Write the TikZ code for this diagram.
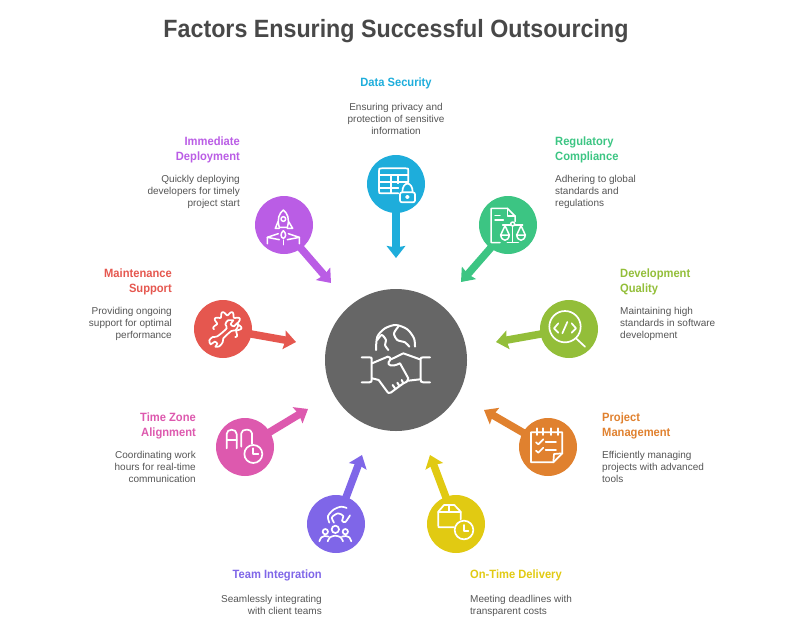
\documentclass[tikz,border=0pt]{standalone}
\usepackage{fontspec}
\setmainfont[BoldFeatures={FakeStretch=0.93}]{Liberation Sans}
\usetikzlibrary{arrows.meta}
\definecolor{cblue}{HTML}{1EADDB}
\definecolor{cpurple}{HTML}{BA5DE5}
\definecolor{cgreen}{HTML}{3CC583}
\definecolor{colive}{HTML}{93BE39}
\definecolor{corange}{HTML}{E0812F}
\definecolor{cyellow}{HTML}{E1CA12}
\definecolor{cviolet}{HTML}{7F66E8}
\definecolor{cpink}{HTML}{DD59AE}
\definecolor{cred}{HTML}{E5574F}
\definecolor{ccenter}{HTML}{666666}
\definecolor{ctitle}{HTML}{484848}
\definecolor{cbody}{HTML}{555555}
\tikzset{
  disc/.style={circle,fill=#1,minimum size=58pt,inner sep=0pt,outer sep=0pt},
  spoke/.style={draw=#1,line width=7.5pt,shorten <=-4pt,-{Stealth[length=12pt,width=18.5pt,inset=1.5pt]}},
  head/.style={font=\fontsize{12}{14.5}\selectfont\bfseries,text=#1,inner sep=0pt},
  body/.style={font=\fontsize{10}{12}\selectfont,text=cbody,inner sep=0pt},
  icon/.style={draw=white,line width=1.7pt,line cap=round,line join=round},
  zoomed/.style 2 args={shift={(#1,#2)},x=0.33333pt,y=-0.33333pt},
}
\begin{document}
\begin{tikzpicture}[x=1pt,y=-1pt]
\useasboundingbox (0,0) rectangle (792,643);
\node[font=\fontsize{25}{30}\selectfont\bfseries,text=ctitle,inner sep=0pt] (title) at (396,31) {Factors Ensuring Successful Outsourcing};

% free ends of the connectors
\coordinate (tipA) at (396,258);
\coordinate (tipB) at (461,282);
\coordinate (tipC) at (496,342);
\coordinate (tipD) at (484,410);
\coordinate (tipE) at (430,455);
\coordinate (tipF) at (362,455);
\coordinate (tipG) at (308,409);
\coordinate (tipH) at (296,342);
\coordinate (tipI) at (331,283);

% discs
\node[circle,fill=ccenter,minimum size=142pt,inner sep=0pt] (hub) at (396,360) {};
\node[disc=cblue] (dA) at (396,184) {};
\node[disc=cgreen] (dB) at (508,225) {};
\node[disc=colive] (dC) at (569,329) {};
\node[disc=corange] (dD) at (548,447) {};
\node[disc=cyellow] (dE) at (456,524) {};
\node[disc=cviolet] (dF) at (336,524) {};
\node[disc=cpink] (dG) at (245,447) {};
\node[disc=cred] (dH) at (223,329) {};
\node[disc=cpurple] (dI) at (284,225) {};

% connectors
\draw[spoke=cblue] (dA) -- (tipA);
\draw[spoke=cgreen] (dB.233) -- (tipB);
\draw[spoke=colive] (dC) -- (tipC);
\draw[spoke=corange] (dD) -- (tipD);
\draw[spoke=cyellow] (dE) -- (tipE);
\draw[spoke=cviolet] (dF) -- (tipF);
\draw[spoke=cpink] (dG) -- (tipG);
\draw[spoke=cred] (dH) -- (tipH);
\draw[spoke=cpurple] (dI.-54) -- (tipI);

% texts
\node[head=cblue,anchor=north] (hA) at (396,78) {Data Security};
\node[body,anchor=north,align=center] (bA) at (396,103.5) {Ensuring privacy and\\protection of sensitive\\information};
\node[head=cgreen,anchor=north west,align=left] (hB) at (555,137) {Regulatory\\Compliance};
\node[body,anchor=north west,align=left] (bB) at (555,175.5) {Adhering to global\\standards and\\regulations};
\node[head=colive,anchor=north west,align=left] (hC) at (620,269) {Development\\Quality};
\node[body,anchor=north west,align=left] (bC) at (620,307.5) {Maintaining high\\standards in software\\development};
\node[head=corange,anchor=north west,align=left] (hD) at (602,413) {Project\\Management};
\node[body,anchor=north west,align=left] (bD) at (602,451.5) {Efficiently managing\\projects with advanced\\tools};
\node[head=cyellow,anchor=north west] (hE) at (470,570) {On-Time Delivery};
\node[body,anchor=north west,align=left] (bE) at (470,595.5) {Meeting deadlines with\\transparent costs};
\node[head=cviolet,anchor=north east] (hF) at (322,570) {Team Integration};
\node[body,anchor=north east,align=right] (bF) at (322,595.5) {Seamlessly integrating\\with client teams};
\node[head=cpink,anchor=north east,align=right] (hG) at (196,413) {Time Zone\\Alignment};
\node[body,anchor=north east,align=right] (bG) at (196,451.5) {Coordinating work\\hours for real-time\\communication};
\node[head=cred,anchor=north east,align=right] (hH) at (172,269) {Maintenance\\Support};
\node[body,anchor=north east,align=right] (bH) at (172,307.5) {Providing ongoing\\support for optimal\\performance};
\node[head=cpurple,anchor=north east,align=right] (hI) at (240,137) {Immediate\\Deployment};
\node[body,anchor=north east,align=right] (bI) at (240,175.5) {Quickly deploying\\developers for timely\\project start};

% hub icon: globe and handshake
\begin{scope}[zoomed={320}{280},icon,line width=2pt]
\draw plot[smooth] coordinates {(168,210)(172,170)(195,145)(228,135)(262,148)(282,175)(285,200)};
\draw plot[smooth] coordinates {(172,180)(185,165)(198,180)(195,195)(205,210)};
\draw plot[smooth] coordinates {(235,140)(222,160)(232,180)(255,187)(268,200)};
\draw (125,232)--(148,232)..controls (155,232)..(155,242)--(155,288)..controls (155,307)..(148,307)--(125,307);
\draw (330,232)--(310,232)..controls (302,232)..(302,242)--(302,288)..controls (302,307)..(310,307)--(330,307);
\draw (156,250)--(203,230)..controls (215,232) and (212,240)..(206,246)..controls (202,256) and (215,262)..(240,250)--(265,295)..controls (262,305)..(250,310)--(212,338)..controls (205,340)..(198,330)--(176,300)--(156,295);
\draw (213,238)--(250,220)--(300,238);
\draw (265,302)--(300,298);
\draw (225,325)--(218,315);
\draw (238,318)--(232,308);
\draw (250,310)--(245,300);
\end{scope}

% data security icon
\begin{scope}[zoomed={240}{140},icon]
\draw (475,160)--(425,160)..controls (417,160)..(417,152)--(417,93)..controls (417,85)..(425,85)--(497,85)..controls (505,85)..(505,93)--(505,125);
\draw (417,105)--(505,105);
\draw (417,125)--(505,125);
\draw (417,143)--(475,143);
\draw (452,105)--(452,160);
\draw (475,105)--(475,130);
\draw[rounded corners=2pt] (480,157) rectangle (525,187);
\draw (487,157)..controls (487,122) and (518,122)..(518,157);
\draw (502,171) circle[radius=4];
\end{scope}

% rocket icon
\begin{scope}[zoomed={240}{140},icon,line width=1.5pt]
\draw (118,262)..controls (110,235) and (118,220)..(130,210)..controls (142,220) and (150,235)..(142,262)--cycle;
\draw (130,237) circle[radius=7];
\draw (114,245)--(106,265)--(118,265);
\draw (146,245)--(158,265)--(142,265);
\draw (130,272)..controls (120,280) and (122,293)..(130,295)..controls (138,293) and (140,280)..(130,272);
\draw (115,281)--(82,292)--(82,311);
\draw (145,281)--(178,292)--(178,311);
\draw (82,292)--(118,299);
\draw (178,292)--(142,299);
\draw (130,300)--(130,314);
\end{scope}

% compliance icon
\begin{scope}[zoomed={450}{180},icon,line width=1.5pt]
\draw (150,188)--(128,188)..controls (123,188)..(123,183)--(123,90)..controls (123,85)..(128,85)--(172,85)--(195,108)--(195,125);
\draw (172,85)--(172,108)--(195,108);
\draw (135,107)--(150,107);
\draw (135,120)--(160,120);
\draw (188,132) circle[radius=6];
\draw (188,138)--(188,187);
\draw (172,188)--(205,188);
\draw (158,135)--(182,135);
\draw (194,135)--(218,135);
\draw (165,137)--(152,165)--(178,165)--cycle;
\draw (213,137)--(200,165)--(226,165)--cycle;
\draw (152,165)..controls (155,186) and (175,186)..(178,165);
\draw (200,165)..controls (203,186) and (223,186)..(226,165);
\end{scope}

% code search icon
\begin{scope}[zoomed={450}{180},icon]
\draw (345,440) circle[radius=47];
\draw (378,475)--(405,500);
\draw (325,430)--(312,445)--(325,458);
\draw (365,430)--(378,445)--(365,458);
\draw (352,426)--(337,460);
\end{scope}

% notepad icon
\begin{scope}[zoomed={480}{400},icon]
\draw (153,97)--(153,187)--(220,187)--(247,160)--(247,97)--cycle;
\draw (220,187)--(222,162)--(247,160);
\foreach \q in {170,190,212,235} {\draw (\q,85)--(\q,105);}
\draw (168,127)--(175,133)--(190,118);
\draw (168,152)--(175,158)--(190,143);
\draw (197,127)--(228,127);
\draw (197,150)--(228,150);
\end{scope}

% parcel icon
\begin{scope}[zoomed={300}{450},icon]
\draw (462,232)--(420,232)..controls (415,232)..(415,227)--(415,185)--(432,165)--(463,165)--(482,185)--(482,208);
\draw (415,185)--(482,185);
\draw (448,165)--(448,185);
\draw (492,240) circle[radius=28];
\draw (492,225)--(492,243)--(505,243);
\end{scope}

% team icon
\begin{scope}[zoomed={312}{500},icon]
\draw (70,88) circle[radius=11];
\draw (40,95) circle[radius=8];
\draw (100,95) circle[radius=8];
\draw plot[smooth] coordinates {(47,124)(54,112)(70,107)(86,112)(93,124)};
\draw plot[smooth] coordinates {(22,124)(28,112)(38,108)(50,110)};
\draw plot[smooth] coordinates {(118,124)(112,112)(102,108)(90,110)};
\draw plot[smooth] coordinates {(52,68)(48,48)(66,28)(88,20)(104,24)};
\draw plot[smooth] coordinates {(66,68)(60,52)(78,40)(94,48)(90,62)(100,66)(114,46)};
\end{scope}

% time zone icon
\begin{scope}[zoomed={180}{290},icon]
\draw (140,475)--(140,432)..controls (140,415) and (170,415)..(170,432)--(170,475);
\draw (140,450)--(170,450);
\draw (184,470)--(184,430)..controls (184,415) and (216,415)..(216,430)--(216,462);
\draw (220,492) circle[radius=27];
\draw (220,475)--(220,493)--(235,493);
\end{scope}

% wrench and gear icon
\begin{scope}[zoomed={200}{305},icon]
\draw plot[smooth,domain=165:415,samples=90] ({82+(37+6*sin(9*\x))*cos(\x)},{62+(37+6*sin(9*\x))*sin(\x)});
\draw plot[smooth] coordinates {(100,46)(84,46)(76,58)(80,70)(52,94)(38,96)(28,106)(32,118)(44,110)(52,116)(46,125)(58,124)(68,112)(70,100)(94,78)(106,76)(114,64)(112,54)(102,64)(92,58)(100,46)};
\end{scope}
\end{tikzpicture}
\end{document}
